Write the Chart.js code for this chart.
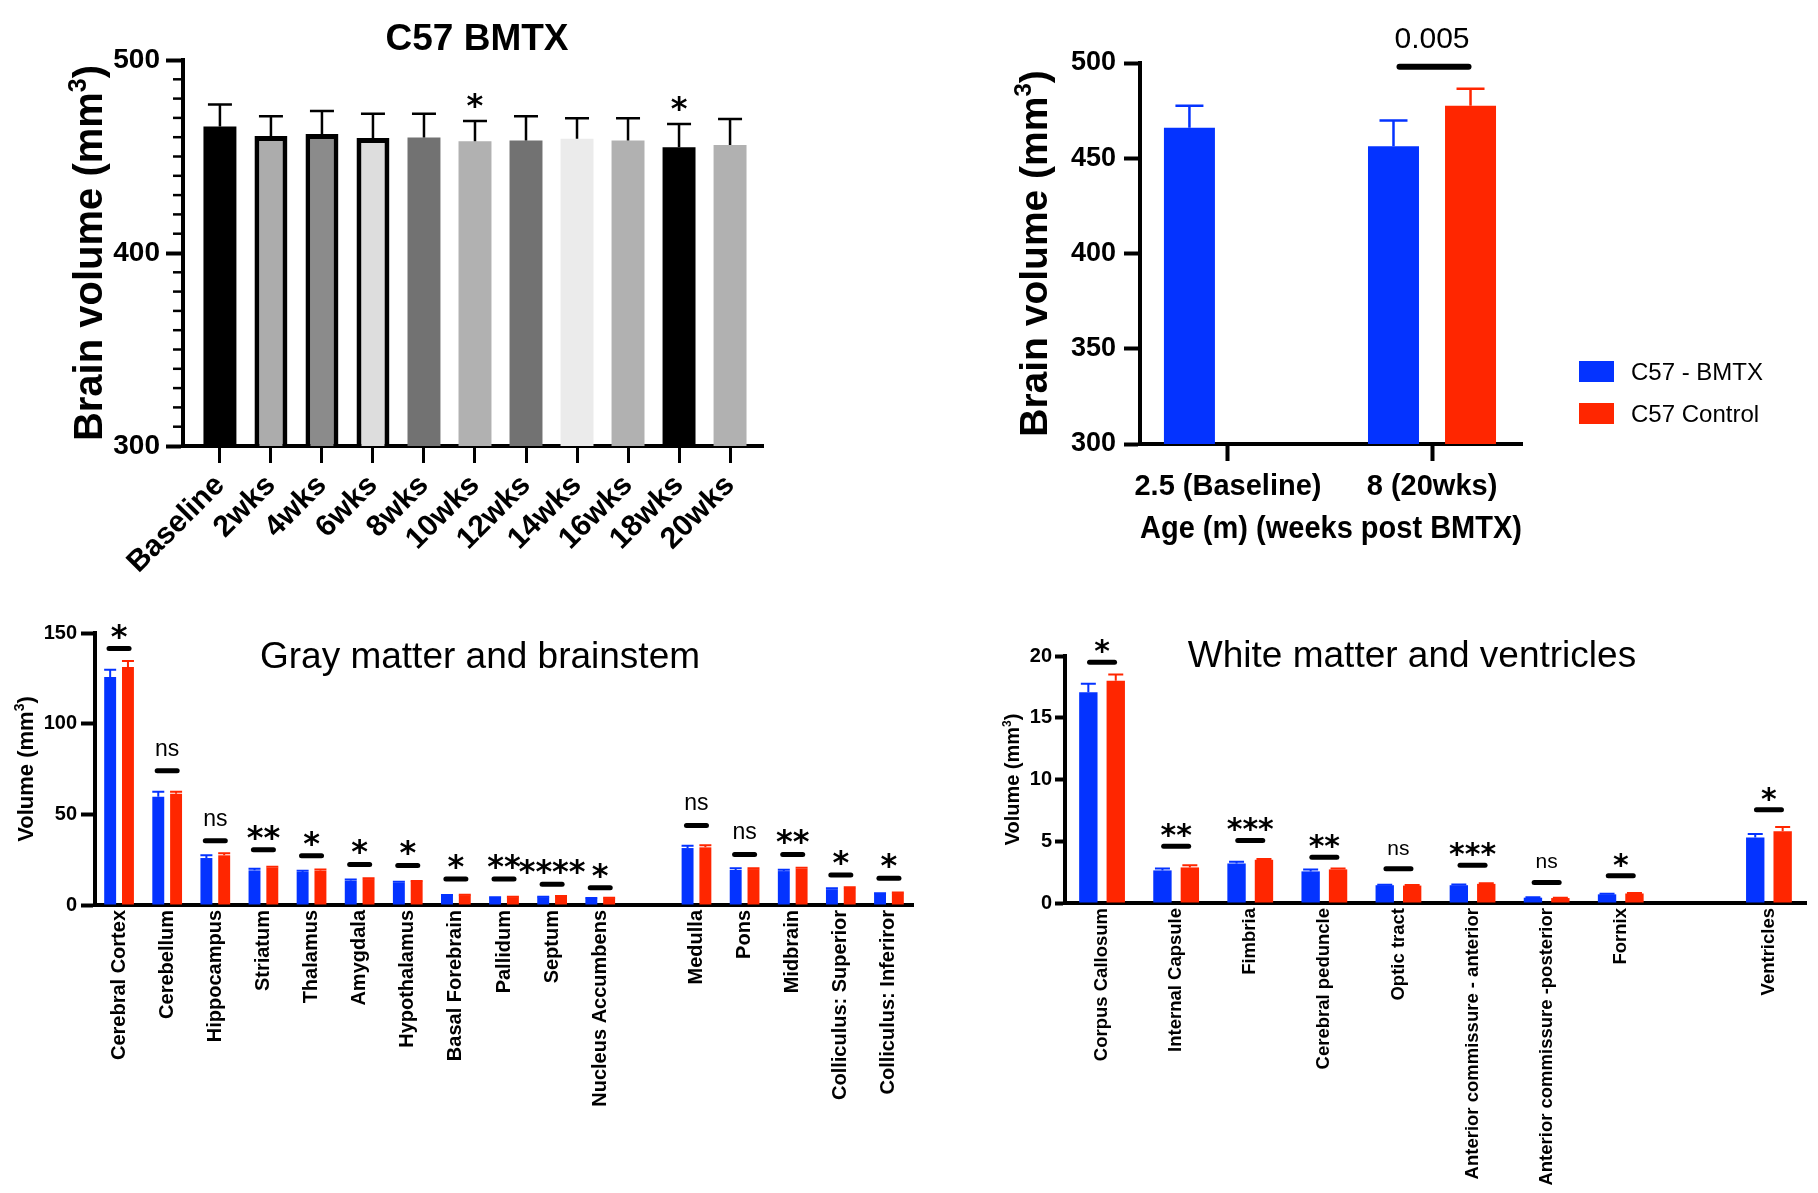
<!DOCTYPE html>
<html><head><meta charset="utf-8">
<script src="https://cdn.jsdelivr.net/npm/chart.js@4.4.1/dist/chart.umd.min.js"></script>
<style>
html,body{margin:0;padding:0;background:#fff;}
body{width:1818px;height:1193px;position:relative;overflow:hidden;}
canvas{position:absolute;}
</style></head><body>
<canvas id="c1" width="800" height="600" style="left:0;top:0"></canvas>
<canvas id="c2" width="818" height="600" style="left:1000px;top:0"></canvas>
<canvas id="c3" width="920" height="593" style="left:0;top:600px"></canvas>
<canvas id="c4" width="818" height="593" style="left:1000px;top:600px"></canvas>
<script>
// ---------------- DATA ----------------
const timeLabels = ['Baseline','2wks','4wks','6wks','8wks','10wks','12wks','14wks','16wks','18wks','20wks'];
const timeMeans  = [465.6, 460.6, 461.7, 459.6, 459.8, 457.9, 458.3, 459.2, 458.3, 454.8, 456.0];
const timeErr    = [11.4, 10.3, 11.9, 12.5, 12.4, 10.5, 12.6, 10.6, 11.5, 12.1, 13.4];
const timeSig    = ['', '', '', '', '', '*', '', '', '', '*', ''];

const seriesNames   = ['C57 - BMTX', 'C57 Control'];
const ageLabels     = ['2.5 (Baseline)', '8 (20wks)'];
const ageBmtx       = [466.0, 456.3];
const ageBmtxErr    = [11.5, 13.5];
const ageControl    = [null, 477.5];
const ageControlErr = [null, 9.0];
const agePValue     = '0.005';
const agePLevel     = 498;

const grayLabels = ['Cerebral Cortex','Cerebellum','Hippocampus','Striatum','Thalamus','Amygdala','Hypothalamus','Basal Forebrain','Pallidum','Septum','Nucleus Accumbens','','Medulla','Pons','Midbrain','Colliculus: Superior','Colliculus: Inferiror'];
const grayBmtx       = [125.8, 59.7, 25.9, 19.1, 18.2, 13.4, 12.3, 5.2, 4.0, 4.3, 3.5, null, 31.4, 19.3, 18.7, 8.7, 6.1];
const grayBmtxErr    = [4.0, 2.7, 1.5, 0.9, 0.7, 0.6, 0.5, 0.3, 0.3, 0.3, 0.3, null, 1.3, 0.9, 0.7, 0.5, 0.4];
const grayControl    = [131.3, 61.3, 27.4, 20.6, 18.9, 14.3, 12.9, 5.4, 4.3, 4.7, 3.8, null, 31.8, 19.8, 20.0, 9.4, 6.6];
const grayControlErr = [3.3, 1.1, 1.1, 0.5, 0.7, 0.4, 0.3, 0.3, 0.2, 0.3, 0.2, null, 1.1, 0.4, 0.6, 0.4, 0.3];
const grayBracket    = [141.4, 74, 35.4, 30.5, 27.2, 22.4, 21.8, 14.3, 14.3, 11.4, 9.5, null, 43.9, 27.9, 27.9, 16.5, 14.7];
const graySig        = ['*','ns','ns','**','*','*','*','*','**','****','*','','ns','ns','**','*','*'];

const whiteLabels = ['Corpus Callosum','Internal Capsule','Fimbria','Cerebral peduncle','Optic tract','Anterior commissure - anterior','Anterior commissure -posterior','Fornix','','Ventricles'];
const whiteBmtx       = [17.06, 2.64, 3.20, 2.56, 1.44, 1.44, 0.43, 0.70, null, 5.30];
const whiteBmtxErr    = [0.70, 0.16, 0.14, 0.16, 0.04, 0.05, 0.03, 0.05, null, 0.28];
const whiteControl    = [18.00, 2.88, 3.50, 2.72, 1.41, 1.55, 0.40, 0.77, null, 5.80];
const whiteControlErr = [0.50, 0.17, 0.06, 0.08, 0.05, 0.04, 0.03, 0.04, null, 0.35];
const whiteBracket    = [19.5, 4.6, 5.07, 3.7, 2.78, 3.05, 1.67, 2.2, null, 7.55];
const whiteSig        = ['*','**','***','**','ns','***','ns','*','','*'];

// ---------------- STYLE ----------------
const FONT = "'Liberation Sans', Arial, Helvetica, sans-serif";
const STAR = "'DejaVu Sans', sans-serif";
const BLUE = '#0433ff', RED = '#ff2600';
Chart.defaults.font.family = FONT;
Chart.defaults.color = '#000';
const timeFill = ['#000000','#acacac','#8b8b8b','#dddddd','#727272','#b1b1b1','#727272','#ebebeb','#b1b1b1','#000000','#b1b1b1'];
const timeBorderW = [0,5,5,5,0,0,0,0,0,0,0];

const errorBarPlugin = {
  id: 'errbars',
  afterDatasetsDraw(chart) {
    const ctx = chart.ctx, ys = chart.scales.y;
    chart.data.datasets.forEach((ds, di) => {
      if (!ds.errors) return;
      const meta = chart.getDatasetMeta(di);
      meta.data.forEach((el, i) => {
        const p = meta.controller.getParsed(i);
        const e = ds.errors[i];
        if (!p || p.y == null || isNaN(p.y) || e == null) return;
        const yv = ys.getPixelForValue(p.y), ye = ys.getPixelForValue(p.y + e);
        ctx.save();
        ctx.strokeStyle = ds.errorColor; ctx.lineWidth = ds.errorWidth;
        ctx.beginPath();
        ctx.moveTo(el.x, yv); ctx.lineTo(el.x, ye);
        ctx.moveTo(el.x - ds.capWidth / 2, ye); ctx.lineTo(el.x + ds.capWidth / 2, ye);
        ctx.stroke(); ctx.restore();
      });
    });
  }
};

function titlePlugin(text, x, y, font) {
  return { id: 'ptitle', afterDraw(chart) {
    const ctx = chart.ctx; ctx.save();
    ctx.font = font; ctx.fillStyle = '#000'; ctx.textAlign = 'center'; ctx.textBaseline = 'alphabetic';
    ctx.fillText(text, x, y); ctx.restore();
  }};
}

// vertical axis title with a real superscript "3": "<main>3)"
function yTitlePlugin(main, cx, size) {
  return { id: 'ytitle', afterDraw(chart) {
    const ctx = chart.ctx, ca = chart.chartArea;
    const cy = (ca.top + ca.bottom) / 2;
    const big = 'bold ' + size + 'px ' + FONT, small = 'bold ' + Math.round(size * 0.62) + 'px ' + FONT;
    ctx.save();
    ctx.font = big; const w1 = ctx.measureText(main).width, w3 = ctx.measureText(')').width;
    ctx.font = small; const w2 = ctx.measureText('3').width;
    const total = w1 + w2 + w3;
    ctx.translate(cx, cy); ctx.rotate(-Math.PI / 2);
    ctx.fillStyle = '#000'; ctx.textAlign = 'left'; ctx.textBaseline = 'alphabetic';
    const base = size * 0.36;
    let x = -total / 2;
    ctx.font = big; ctx.fillText(main, x, base); x += w1;
    ctx.font = small; ctx.fillText('3', x, base - size * 0.42); x += w2;
    ctx.font = big; ctx.fillText(')', x, base);
    ctx.restore();
  }};
}

function sigPlugin(labels, levels, o) {
  return { id: 'sig', afterDraw(chart) {
    const ctx = chart.ctx, xs = chart.scales.x, ys = chart.scales.y;
    labels.forEach((lab, i) => {
      if (!lab) return;
      const cx = xs.getPixelForValue(i);
      const y = ys.getPixelForValue(levels[i]);
      ctx.save();
      ctx.strokeStyle = '#000'; ctx.lineWidth = o.lineWidth; ctx.lineCap = 'round';
      ctx.beginPath(); ctx.moveTo(cx - o.len / 2, y); ctx.lineTo(cx + o.len / 2, y); ctx.stroke();
      ctx.fillStyle = '#000'; ctx.textAlign = 'center'; ctx.textBaseline = 'alphabetic';
      if (lab === 'ns') { ctx.font = o.nsFont; ctx.fillText(lab, cx, y - o.nsGap); }
      else { ctx.font = o.starFont; ctx.fillText(lab, cx, y - o.starGap); }
      ctx.restore();
    });
  }};
}

// ---------------- PANEL 1 ----------------
new Chart(document.getElementById('c1'), {
  type: 'bar',
  data: { datasets: [{
    data: timeLabels.map((_, i) => ({ x: i, y: timeMeans[i] })),
    errors: timeErr, errorColor: '#000', errorWidth: 2.5, capWidth: 24,
    backgroundColor: timeFill, borderColor: '#000', borderWidth: timeBorderW,
    barPercentage: 0.646, categoryPercentage: 1
  }]},
  options: {
    responsive: false, animation: false,
    layout: { autoPadding: false, padding: { top: 60, right: 37, left: 0, bottom: 0 } },
    plugins: { legend: { display: false }, tooltip: { enabled: false } },
    scales: {
      x: { type: 'linear', min: -0.724, max: 10.646, offset: false,
        afterBuildTicks: s => { s.ticks = timeLabels.map((_, i) => ({ value: i })); },
        ticks: { callback: v => timeLabels[v], autoSkip: false, minRotation: 45, maxRotation: 45,
                 font: { size: 30, weight: 'bold' }, padding: 5, includeBounds: false },
        grid: { offset: false, drawOnChartArea: false, tickLength: 17, tickWidth: 3, tickColor: '#000' },
        border: { width: 4, color: '#000' },
        afterFit: s => { s.height = 154; } },
      y: { min: 300, max: 500,
        ticks: { stepSize: 100, font: { size: 28, weight: 'bold' }, padding: 6 },
        grid: { drawOnChartArea: false, tickLength: 17, tickWidth: 4, tickColor: '#000' },
        border: { width: 4, color: '#000' },
        afterFit: s => { s.width = 183; } }
    }
  },
  plugins: [errorBarPlugin, titlePlugin('C57 BMTX', 477, 50, 'bold 37px ' + FONT),
    yTitlePlugin('Brain volume (mm', 88, 40), {
    id: 'minor', afterDraw(chart) {
      const ys = chart.scales.y, ctx = chart.ctx, x0 = chart.chartArea.left;
      ctx.save(); ctx.strokeStyle = '#000'; ctx.lineWidth = 2.5;
      for (let v = ys.min + 10; v < ys.max; v += 10) {
        if (v % 100 === 0) continue;
        const y = ys.getPixelForValue(v);
        ctx.beginPath(); ctx.moveTo(x0 - 10, y); ctx.lineTo(x0, y); ctx.stroke();
      }
      // significance stars above error bars
      const meta = chart.getDatasetMeta(0);
      ctx.fillStyle = '#000'; ctx.textAlign = 'center'; ctx.font = 'bold 32px ' + STAR;
      timeSig.forEach((s, i) => {
        if (!s) return;
        const y = ys.getPixelForValue(timeMeans[i] + timeErr[i]);
        ctx.fillText(s, meta.data[i].x, y - 5);
      });
      ctx.restore();
    }
  }]
});

// ---------------- PANEL 2 ----------------
new Chart(document.getElementById('c2'), {
  type: 'bar',
  data: { datasets: [
    { label: seriesNames[0], data: ageLabels.map((_, i) => ({ x: i, y: ageBmtx[i] })),
      errors: ageBmtxErr, errorColor: BLUE, errorWidth: 2.5, capWidth: 28,
      backgroundColor: BLUE, barPercentage: 0.662, categoryPercentage: 0.755 },
    { label: seriesNames[1], data: ageLabels.map((_, i) => ({ x: i, y: ageControl[i] })),
      errors: ageControlErr, errorColor: RED, errorWidth: 2.5, capWidth: 28,
      backgroundColor: RED, barPercentage: 0.662, categoryPercentage: 0.755 }
  ]},
  options: {
    responsive: false, animation: false,
    layout: { autoPadding: false, padding: { top: 63, right: 296, left: 0, bottom: 0 } },
    plugins: { legend: { display: false }, tooltip: { enabled: false } },
    scales: {
      x: { type: 'linear', min: -0.431, max: 1.441, offset: false,
        afterBuildTicks: s => { s.ticks = ageLabels.map((_, i) => ({ value: i })); },
        ticks: { callback: v => ageLabels[v], autoSkip: false, minRotation: 0, maxRotation: 0,
                 font: { size: 29, weight: 'bold' }, padding: 9, includeBounds: false },
        grid: { offset: false, drawOnChartArea: false, tickLength: 17, tickWidth: 4, tickColor: '#000' },
        border: { width: 4, color: '#000' },
        title: { display: true, text: 'Age (m) (weeks post BMTX)', font: { size: 31, weight: 'bold' }, padding: { top: 0, bottom: 52 } },
        afterFit: s => { s.height = 156; } },
      y: { min: 300, max: 500,
        ticks: { stepSize: 50, font: { size: 27, weight: 'bold' }, padding: 8 },
        grid: { drawOnChartArea: false, tickLength: 16, tickWidth: 4, tickColor: '#000' },
        border: { width: 4, color: '#000' },
        afterFit: s => { s.width = 140; } }
    }
  },
  plugins: [errorBarPlugin, yTitlePlugin('Brain volume (mm', 33, 39), {
    id: 'pval', afterDraw(chart) {
      const ctx = chart.ctx, ys = chart.scales.y;
      const b = chart.getDatasetMeta(0).data[1], r = chart.getDatasetMeta(1).data[1];
      const y = ys.getPixelForValue(agePLevel);
      ctx.save();
      ctx.strokeStyle = '#000'; ctx.lineWidth = 6; ctx.lineCap = 'round';
      ctx.beginPath(); ctx.moveTo(b.x + 6, y); ctx.lineTo(r.x - 2, y); ctx.stroke();
      ctx.fillStyle = '#000'; ctx.textAlign = 'center'; ctx.font = '30px ' + FONT;
      ctx.fillText(agePValue, (b.x + r.x) / 2, y - 19);
      // legend
      ctx.textAlign = 'left'; ctx.font = '24px ' + FONT;
      chart.data.datasets.forEach((ds, i) => {
        const top = 361 + i * 42;
        ctx.fillStyle = ds.backgroundColor; ctx.fillRect(579, top, 35, 21);
        ctx.fillStyle = '#000'; ctx.fillText(ds.label, 631, top + 19);
      });
      ctx.restore();
    }
  }]
});

// ---------------- PANELS 3 & 4 ----------------
function regionChart(id, labels, bmtx, bmtxErr, ctrl, ctrlErr, cfg) {
  return new Chart(document.getElementById(id), {
    type: 'bar',
    data: { labels, datasets: [
      { label: seriesNames[0], data: bmtx, errors: bmtxErr, errorColor: BLUE, errorWidth: 2, capWidth: cfg.cap,
        backgroundColor: BLUE, barPercentage: 0.67, categoryPercentage: 0.74 },
      { label: seriesNames[1], data: ctrl, errors: ctrlErr, errorColor: RED, errorWidth: 2, capWidth: cfg.cap,
        backgroundColor: RED, barPercentage: 0.67, categoryPercentage: 0.74 }
    ]},
    options: {
      responsive: false, animation: false,
      layout: { autoPadding: false, padding: { top: cfg.top, right: cfg.right, left: 0, bottom: 0 } },
      plugins: { legend: { display: false }, tooltip: { enabled: false } },
      scales: {
        x: { ticks: { autoSkip: false, minRotation: 90, maxRotation: 90, font: { size: cfg.xFont, weight: 'bold' }, padding: 5 },
          grid: { drawOnChartArea: false, drawTicks: false },
          border: { width: 4, color: '#000' },
          afterFit: s => { s.height = cfg.xh; } },
        y: { min: 0, max: cfg.max,
          ticks: { stepSize: cfg.step, font: { size: 20, weight: 'bold' }, padding: cfg.yPad },
          grid: { drawOnChartArea: false, tickLength: cfg.tl, tickWidth: 4, tickColor: '#000' },
          border: { width: 4, color: '#000' },
          afterFit: s => { s.width = cfg.yw; } }
      }
    },
    plugins: [errorBarPlugin, titlePlugin(cfg.title, cfg.tx, cfg.ty, '37px ' + FONT),
      yTitlePlugin('Volume (mm', cfg.ytx, cfg.yTitle), sigPlugin(cfg.sig, cfg.levels, cfg.sigStyle)]
  });
}

regionChart('c3', grayLabels, grayBmtx, grayBmtxErr, grayControl, grayControlErr, {
  cap: 12, top: 33, right: 7, xh: 288, yw: 95, max: 150, step: 50, yPad: 4, tl: 14, xFont: 20,
  yTitle: 22, ytx: 25, title: 'Gray matter and brainstem', tx: 480, ty: 68,
  sig: graySig, levels: grayBracket,
  sigStyle: { len: 20, lineWidth: 5, starFont: 'bold 32px ' + STAR, starGap: 2, nsFont: '23px ' + FONT, nsGap: 15 }
});

regionChart('c4', whiteLabels, whiteBmtx, whiteBmtxErr, whiteControl, whiteControlErr, {
  cap: 15, top: 56, right: 12, xh: 290, yw: 65, max: 20, step: 5, yPad: 3, tl: 10, xFont: 18.5,
  yTitle: 20, ytx: 12, title: 'White matter and ventricles', tx: 412, ty: 67,
  sig: whiteSig, levels: whiteBracket,
  sigStyle: { len: 25, lineWidth: 5, starFont: 'bold 30px ' + STAR, starGap: 1, nsFont: '21px ' + FONT, nsGap: 14 }
});
</script>
</body></html>
